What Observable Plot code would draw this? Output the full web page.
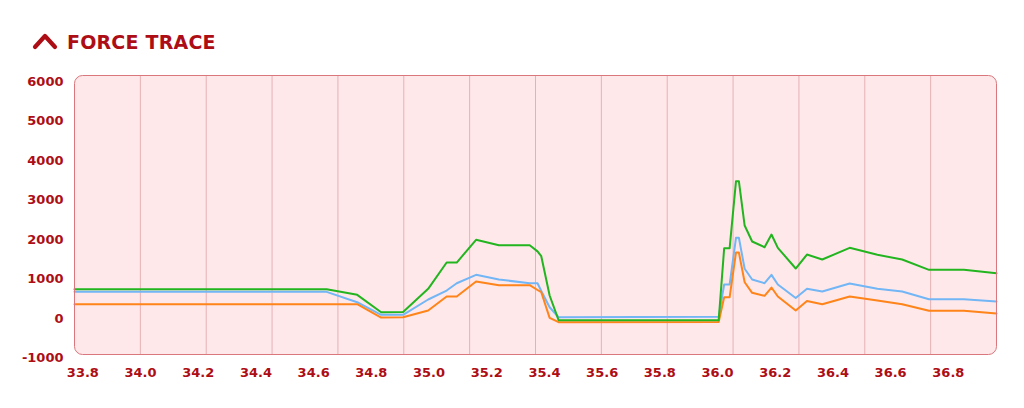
<!DOCTYPE html>
<html>
<head>
<meta charset="utf-8">
<script src="https://cdn.jsdelivr.net/npm/d3@7"></script>
<script src="https://cdn.jsdelivr.net/npm/@observablehq/plot@0.6"></script>
<style>
  html, body { margin: 0; padding: 0; background: #ffffff; }
  body { width: 1024px; height: 408px; overflow: hidden; font-family: "DejaVu Sans", sans-serif; }
  #header { position: relative; height: 60px; }
  #header svg.icon { position: absolute; left: 32px; top: 31px; }
  #header .title { position: absolute; left: 67px; top: 29px; font-size: 19px; font-weight: 700; color: #ad0d14; letter-spacing: 0.2px; line-height: 26px; }
  #chart { display: block; }
</style>
</head>
<body>
<div id="header">
  <svg class="icon" width="28" height="20" viewBox="0 0 28 20"><polyline points="3,16 13,5 23,16" fill="none" stroke="#ad0d14" stroke-width="4.2" stroke-linecap="round" stroke-linejoin="round"/></svg>
  <div class="title">FORCE TRACE</div>
</div>
<div id="chart"></div>
<script>
// Time axis (s)
const time = [33.771, 34.645, 34.751, 34.834, 34.910, 34.997, 35.061, 35.096, 35.163, 35.242,
  35.349, 35.376, 35.389, 35.418, 35.449, 36.004, 36.023, 36.042, 36.064, 36.074,
  36.094, 36.120, 36.163, 36.187, 36.209, 36.271, 36.310, 36.363, 36.458, 36.554,
  36.640, 36.733, 36.854, 36.967];
// Series values
const greenSeries = [740, 740, 598, 157, 160, 750, 1417, 1417, 1993, 1856,
  1856, 1700, 1577, 581, -45, -45, 1780, 1780, 3479, 3479,
  2355, 1950, 1805, 2127, 1790, 1265, 1620, 1493, 1790, 1613,
  1493, 1232, 1232, 1146];
const blueSeries = [674, 674, 411, 91, 91, 479, 707, 892, 1105, 986,
  892, 892, 695, 284, 30, 40, 860, 860, 2044, 2044,
  1258, 986, 892, 1105, 860, 517, 750, 682, 885, 750,
  682, 487, 487, 428];
const orangeSeries = [360, 360, 360, 23, 30, 200, 555, 555, 936, 842,
  842, 720, 664, 15, -96, -90, 538, 538, 1671, 1671,
  918, 649, 573, 783, 555, 200, 441, 360, 555, 454,
  360, 193, 193, 124];
// Tick labels
const xTicks = [33.8, 34.0, 34.2, 34.4, 34.6, 34.8, 35.0, 35.2, 35.4, 35.6, 35.8, 36.0, 36.2, 36.4, 36.6, 36.8];
const yTicks = [-1000, 0, 1000, 2000, 3000, 4000, 5000, 6000];

const xDomain = [33.771, 36.967];
const yDomain = [-915, 6159];
// 14 equal vertical bands in the background grid
const gridX = d3.range(1, 14).map(i => xDomain[0] + i * (xDomain[1] - xDomain[0]) / 14);

const toRows = vals => time.map((t, i) => ({t, v: vals[i]}));

const chart = Plot.plot({
  width: 1024,
  height: 340,
  marginTop: 15,
  marginBottom: 46,
  marginLeft: 74,
  marginRight: 28,
  style: {
    fontFamily: "'DejaVu Sans', sans-serif",
    fontSize: "13px",
    fontWeight: 700,
    color: "#ad0d14",
    background: "transparent",
    overflow: "visible"
  },
  x: {domain: xDomain, ticks: xTicks, tickFormat: d => d.toFixed(1), tickSize: 0, tickPadding: 13, label: null},
  y: {domain: yDomain, ticks: yTicks, tickFormat: d => String(d), tickSize: 0, tickPadding: 11, label: null},
  marks: [
    Plot.frame({fill: "#ffe8ea", rx: 8, ry: 8}),
    Plot.ruleX(gridX, {stroke: "#e6b0b4", strokeWidth: 1}),
    Plot.line(toRows(blueSeries), {x: "t", y: "v", stroke: "#72b6f6", strokeWidth: 2}),
    Plot.line(toRows(orangeSeries), {x: "t", y: "v", stroke: "#ff8419", strokeWidth: 2}),
    Plot.line(toRows(greenSeries), {x: "t", y: "v", stroke: "#22b51f", strokeWidth: 2}),
    Plot.frame({stroke: "#d9777c", strokeWidth: 1, rx: 8, ry: 8})
  ]
});
document.getElementById("chart").appendChild(chart);
</script>
</body>
</html>
